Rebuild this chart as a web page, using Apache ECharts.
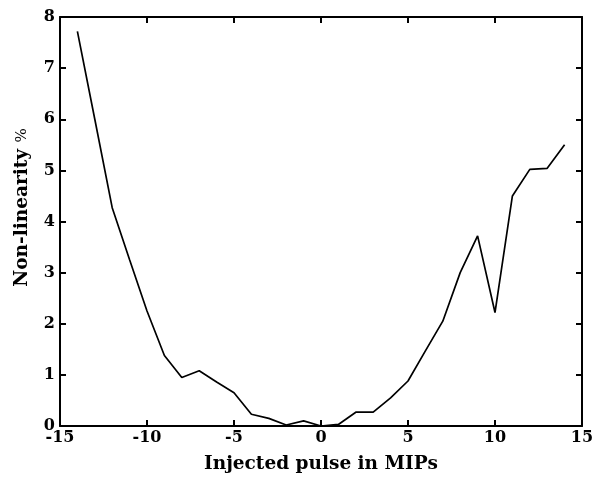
<!DOCTYPE html>
<html>
<head>
<meta charset="utf-8">
<script src="https://cdn.jsdelivr.net/npm/echarts@6/dist/echarts.min.js"></script>
<style>html,body{margin:0;padding:0;background:#fff;}#c{width:594px;height:477px;}</style>
</head>
<body>
<div id="c"></div>
<script>
const xValues = [-14,-13,-12,-11,-10,-9,-8,-7,-6,-5,-4,-3,-2,-1,0,1,2,3,4,5,6,7,8,9,10,11,12,13,14];
const yValues = [7.72,6.0,4.27,3.25,2.25,1.38,0.95,1.08,0.86,0.65,0.23,0.15,0.02,0.1,0.0,0.03,0.27,0.27,0.55,0.88,1.47,2.05,3.0,3.72,2.22,4.5,5.02,5.04,5.5];
const xTicks = [-15,-10,-5,0,5,10,15];
const yTicks = [0,1,2,3,4,5,6,7,8];

const font = 'DejaVu Serif';
const chart = echarts.init(document.getElementById('c'));
const axisCommon = {
  axisLine: {show: true, onZero: false, lineStyle: {color: '#000', width: 2}},
  axisTick: {show: true, inside: true, length: 6, lineStyle: {color: '#000', width: 2}},
  splitLine: {show: false}
};
chart.setOption({
  animation: false,
  backgroundColor: '#fff',
  grid: {left: 60, right: 12, top: 17, bottom: 51, containLabel: false, outerBoundsMode: 'none'},
  xAxis: [
    Object.assign({type: 'value', min: -15, max: 15, interval: 5, position: 'bottom',
      name: 'Injected pulse in MIPs', nameLocation: 'middle', nameGap: 29,
      nameTextStyle: {fontFamily: font, fontWeight: 'bold', fontSize: 18.5, color: '#000'},
      axisLabel: {fontFamily: font, fontWeight: 'bold', fontSize: 16, color: '#000', margin: 4}}, axisCommon),
    Object.assign({type: 'value', min: -15, max: 15, interval: 5, position: 'top', axisLabel: {show: false}}, axisCommon)
  ],
  yAxis: [
    Object.assign({type: 'value', min: 0, max: 8, interval: 1, position: 'left',
      name: 'Non-linearity {p|%}', nameLocation: 'middle', nameGap: 28,
      nameTextStyle: {fontFamily: font, fontWeight: 'bold', fontSize: 18.5, color: '#000',
        padding: [0, 0, 0, 28],
        rich: {p: {fontFamily: font, fontWeight: 'normal', fontSize: 15, color: '#000'}}},
      axisLabel: {fontFamily: font, fontWeight: 'bold', fontSize: 16, color: '#000', margin: 5}}, axisCommon),
    Object.assign({type: 'value', min: 0, max: 8, interval: 1, position: 'right', axisLabel: {show: false}}, axisCommon)
  ],
  series: [{
    type: 'line',
    data: xValues.map((x, i) => [x, yValues[i]]),
    showSymbol: false,
    lineStyle: {color: '#000', width: 1.7},
    xAxisIndex: 0, yAxisIndex: 0
  }]
});
</script>
</body>
</html>
